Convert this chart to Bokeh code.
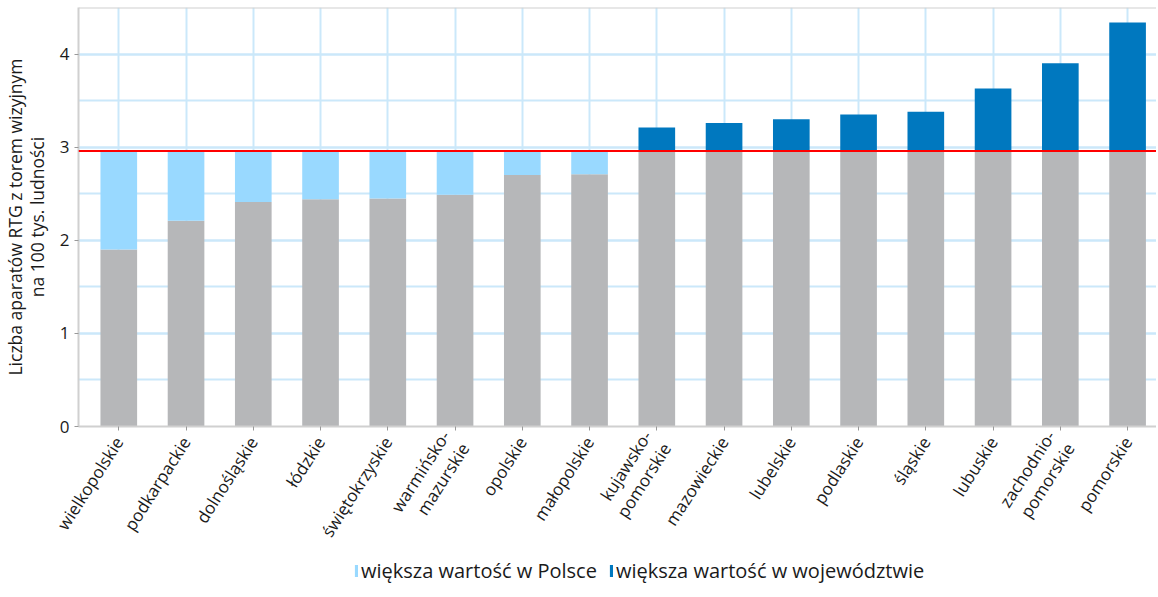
from bokeh.plotting import figure
from bokeh.layouts import column
from bokeh.models import Range1d, FixedTicker, SingleIntervalTicker, Span, Legend, LegendItem, ColumnDataSource
from bokeh.embed import file_html
from bokeh.resources import INLINE

regions = ["wielkopolskie", "podkarpackie", "dolnośląskie", "łódzkie", "świętokrzyskie",
           "warmińsko-\nmazurskie", "opolskie", "małopolskie", "kujawsko-\npomorskie",
           "mazowieckie", "lubelskie", "podlaskie", "śląskie", "lubuskie",
           "zachodnio-\npomorskie", "pomorskie"]
values = [1.90, 2.21, 2.41, 2.44, 2.45, 2.49, 2.70, 2.71, 3.21, 3.26, 3.30, 3.35, 3.38, 3.63, 3.90, 4.34]
poland = 2.96

label_poland = "większa wartość w Polsce"
label_region = "większa wartość w województwie"

FONT = "Open Sans"
GRAY = "#B6B7B9"
LIGHT = "#99D9FF"
DARK = "#0078BF"
GRID = "#CBE8FA"
AXIS = "#D0D0D0"

idx = list(range(len(regions)))
base = [min(v, poland) for v in values]
below = [poland - v if v < poland else 0.0 for v in values]
above = [v - poland if v > poland else 0.0 for v in values]

src = ColumnDataSource(dict(x=idx, base=base, below_top=[b + d for b, d in zip(base, below)],
                            above_top=[b + a for b, a in zip(base, above)]))

p = figure(frame_width=1078, frame_height=419, output_backend="svg", toolbar_location=None,
           x_range=Range1d(-0.599, 15.43), y_range=Range1d(0, 4.5),
           min_border_left=72, min_border_right=0, min_border_top=7, min_border_bottom=0)

W = 0.545
p.vbar(x="x", top="base", bottom=0, width=W, source=src, fill_color=GRAY, line_color=None)
p.vbar(x="x", top="below_top", bottom="base", width=W, source=src, fill_color=LIGHT, line_color=None)
p.vbar(x="x", top="above_top", bottom="base", width=W, source=src, fill_color=DARK, line_color=None)

p.add_layout(Span(location=poland, dimension="width", line_color="#FF0000", line_width=2))
p.add_layout(Span(location=4.5, dimension="width", line_color=AXIS, line_width=2))

p.outline_line_color = None

p.xaxis.ticker = FixedTicker(ticks=idx)
p.xaxis.major_label_overrides = {i: r for i, r in enumerate(regions)}
p.xaxis.major_label_orientation = 1.0
p.xaxis.major_label_standoff = 8
p.xaxis.major_label_text_font = FONT
p.xaxis.major_label_text_font_size = "17px"
p.xaxis.major_label_text_line_height = 1.0
p.xaxis.major_label_text_color = "#1a1a1a"
p.xaxis.axis_line_color = AXIS
p.xaxis.axis_line_width = 2
p.xaxis.major_tick_line_color = "#999999"
p.xaxis.major_tick_out = 4
p.xaxis.major_tick_in = 0
p.xaxis.minor_tick_line_color = None

p.yaxis.ticker = SingleIntervalTicker(interval=1, num_minor_ticks=2)
p.yaxis.major_label_text_font = FONT
p.yaxis.major_label_text_font_size = "17px"
p.yaxis.major_label_text_color = "#1a1a1a"
p.yaxis.axis_line_color = AXIS
p.yaxis.axis_line_width = 2
p.yaxis.major_tick_line_color = "#999999"
p.yaxis.major_tick_out = 4
p.yaxis.major_tick_in = 0
p.yaxis.minor_tick_line_color = None
p.yaxis.axis_label = "Liczba aparatów RTG z torem wizyjnym\nna 100 tys. ludności"
p.yaxis.axis_label_text_font = FONT
p.yaxis.axis_label_text_font_size = "17.5px"
p.yaxis.axis_label_text_line_height = 0.9
p.yaxis.axis_label_text_font_style = "normal"
p.yaxis.axis_label_text_color = "#1a1a1a"
p.yaxis.axis_label_standoff = 8

p.xgrid.ticker = FixedTicker(ticks=idx)
p.xgrid.grid_line_color = GRID
p.xgrid.grid_line_width = 2
p.ygrid.grid_line_color = GRID
p.ygrid.grid_line_width = 2
p.ygrid.minor_grid_line_color = GRID
p.ygrid.minor_grid_line_width = 2

# legend strip below the chart (legend swatches only, nothing drawn in it)
lg = figure(width=1150, height=34, output_backend="svg", toolbar_location=None,
            x_range=Range1d(0, 1), y_range=Range1d(0, 1),
            x_axis_location=None, y_axis_location=None,
            min_border=0, outline_line_color=None)
lg.grid.visible = False
nan = float("nan")
empty = ColumnDataSource(dict(x=[nan], top=[nan]))
sw_light = lg.vbar(x="x", top="top", width=0.1, source=empty, fill_color=LIGHT, line_color=None)
sw_dark = lg.vbar(x="x", top="top", width=0.1, source=empty, fill_color=DARK, line_color=None)
legend = Legend(items=[LegendItem(label=label_poland, renderers=[sw_light]),
                       LegendItem(label=label_region, renderers=[sw_dark])],
                orientation="horizontal", location=(276, 0),
                glyph_width=4, glyph_height=15, label_standoff=3, spacing=12,
                label_text_font=FONT, label_text_font_size="20px", label_text_color="#1a1a1a",
                border_line_color=None, background_fill_alpha=0, margin=0, padding=0)
lg.add_layout(legend, "center")

layout = column(p, lg, spacing=0)
open("out.html", "w").write(file_html(layout, INLINE))
